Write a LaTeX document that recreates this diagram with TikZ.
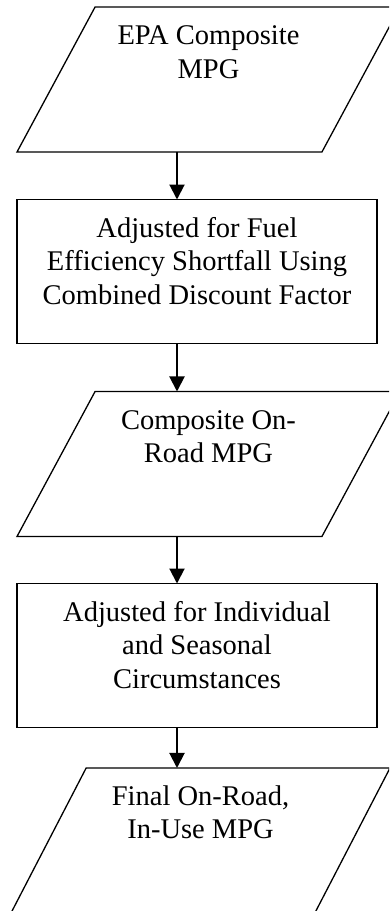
\documentclass[tikz,border=0pt]{standalone}
\usepackage{fontspec}
\setmainfont{Liberation Serif}
\usetikzlibrary{arrows.meta,shapes.geometric,positioning}

\begin{document}
\begin{tikzpicture}[x=1pt,y=1pt,
    flow/.style={-{Triangle[length=15pt,width=15pt]},line width=2pt},
    io/.style={trapezium, draw, line width=1.3pt, outer sep=0pt,
               inner xsep=0pt, inner ysep=72.5pt, trapezium stretches body},
    proc/.style={rectangle, draw, line width=1.3pt, outer sep=0pt,
                 minimum width=360pt, minimum height=144pt},
    txt/.style={align=center, inner sep=0pt,
                font=\fontsize{28.5}{33.5}\selectfont}]

  \useasboundingbox (0,0) rectangle (389,-911);
  \clip (0,0) rectangle (389,-911);

  \node [io, trapezium left angle=61.7, trapezium right angle=118.3,
         minimum width=383pt] (epa) at (208.5,-79.5) {};
  \node [proc] (adjfuel) at (197,-271.5) {};
  \node [io, trapezium left angle=61.7, trapezium right angle=118.3,
         minimum width=383pt] (onroad) at (208.5,-464) {};
  \node [proc] (adjseason) at (197,-655.5) {};
  \node [io, trapezium left angle=62.6, trapezium right angle=117.4,
         minimum width=379pt] (inuse) at (200.5,-840.5) {};

  \node [txt, below=18.5pt of epa.north] (epa-txt) {EPA Composite\\MPG};
  \node [txt, below=17.5pt of adjfuel.north] (adjfuel-txt)
        {Adjusted for Fuel\\Efficiency Shortfall Using\\Combined Discount Factor};
  \node [txt, below=18.5pt of onroad.north] (onroad-txt) {Composite On-\\Road MPG};
  \node [txt, below=17.5pt of adjseason.north] (adjseason-txt)
        {Adjusted for Individual\\and Seasonal\\Circumstances};
  \node [txt, below=17.5pt of inuse.north] (inuse-txt) {Final On-Road,\\In-Use MPG};

  \draw [flow] ([xshift=-20pt]adjfuel.north |- epa.south) -- ([xshift=-20pt]adjfuel.north);
  \draw [flow] ([xshift=-20pt]adjfuel.south) -- ([xshift=-20pt]adjfuel.south |- onroad.north);
  \draw [flow] ([xshift=-20pt]adjseason.north |- onroad.south) -- ([xshift=-20pt]adjseason.north);
  \draw [flow] ([xshift=-20pt]adjseason.south) -- ([xshift=-20pt]adjseason.south |- inuse.north);
\end{tikzpicture}
\end{document}
